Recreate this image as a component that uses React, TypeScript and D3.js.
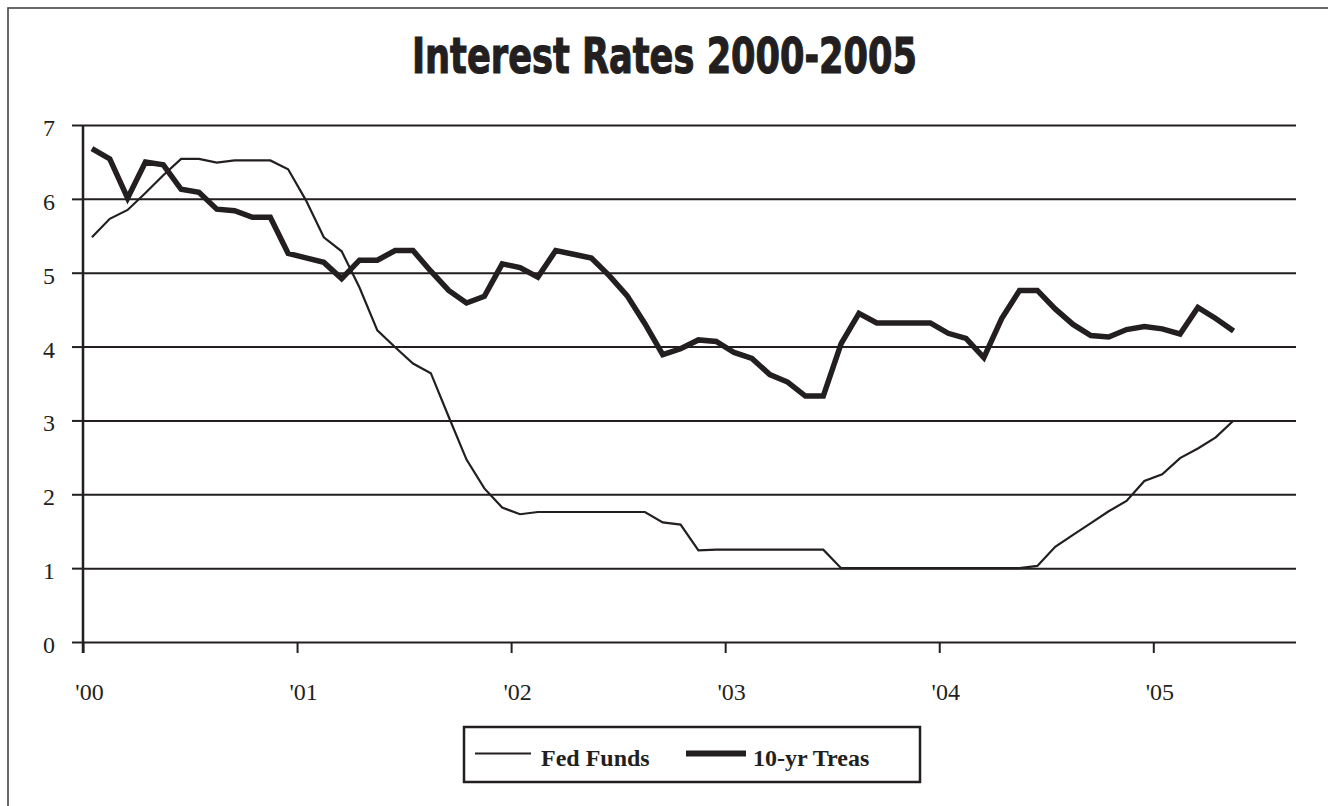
import { useEffect, useRef } from 'react';
import * as d3 from 'd3';

// months since Jan 2000, one value per month, Jan 2000 .. May 2005
const fedFunds = [
  5.48, 5.73, 5.85, 6.08, 6.32, 6.54, 6.54, 6.49, 6.52, 6.52, 6.52, 6.40,
  5.98, 5.48, 5.29, 4.80, 4.22, 3.99, 3.77, 3.64, 3.05, 2.47, 2.08, 1.82,
  1.73, 1.76, 1.76, 1.76, 1.76, 1.76, 1.76, 1.76, 1.62, 1.59, 1.24, 1.25,
  1.25, 1.25, 1.25, 1.25, 1.25, 1.25, 1.00, 1.00, 1.00, 1.00, 1.00, 1.00,
  1.00, 1.00, 1.00, 1.00, 1.00, 1.03, 1.29, 1.45, 1.61, 1.77, 1.91, 2.18,
  2.27, 2.49, 2.62, 2.77, 3.00,
];

const treas10 = [
  6.68, 6.54, 6.01, 6.50, 6.46, 6.13, 6.09, 5.86, 5.84, 5.75, 5.75, 5.26,
  5.20, 5.14, 4.92, 5.17, 5.17, 5.30, 5.30, 5.02, 4.76, 4.59, 4.68, 5.12,
  5.07, 4.94, 5.30, 5.25, 5.20, 4.96, 4.69, 4.31, 3.89, 3.97, 4.09, 4.07,
  3.92, 3.84, 3.62, 3.52, 3.33, 3.33, 4.04, 4.45, 4.32, 4.32, 4.32, 4.32,
  4.18, 4.11, 3.85, 4.38, 4.76, 4.76, 4.51, 4.30, 4.15, 4.13, 4.23, 4.27,
  4.24, 4.17, 4.53, 4.38, 4.21,
];

const yearLabels = ["'00", "'01", "'02", "'03", "'04", "'05"];
const yTicks = [0, 1, 2, 3, 4, 5, 6, 7];
const seriesNames = ['Fed Funds', '10-yr Treas'];
const title = 'Interest Rates 2000-2005';

const W = 1328;
const H = 806;
const INK = '#231f20';
const SERIF = '"Liberation Serif", "Times New Roman", serif';

export default function App() {
  const ref = useRef<SVGSVGElement>(null);

  useEffect(() => {
    const svg = d3.select(ref.current);
    svg.selectAll('*').remove();

    const margin = { top: 125, right: 32, bottom: 164, left: 83 };
    const w = W - margin.left - margin.right;
    const h = H - margin.top - margin.bottom;

    // frame (right / bottom edges fall outside the picture)
    svg.append('rect').attr('x', 8).attr('y', 8).attr('width', W + 40).attr('height', H + 40)
      .style('fill', 'none').style('stroke', '#444').style('stroke-width', 1.6);

    svg.append('text')
      .attr('x', 412).attr('y', 72.5)
      .attr('textLength', 505).attr('lengthAdjust', 'spacingAndGlyphs')
      .style('font-family', '"Liberation Sans Narrow", "DejaVu Sans Condensed", "Roboto", sans-serif')
      .style('font-weight', 'bold').style('font-size', '49px')
      .style('fill', INK).style('stroke', INK).style('stroke-width', 1.1)
      .text(title);

    const g = svg.append('g').attr('transform', `translate(${margin.left},${margin.top})`);

    const x = d3.scaleLinear().domain([0, 68]).range([0, w]);
    const y = d3.scaleLinear().domain([0, 7]).range([h, 0]);

    // grid
    const grid = g.append('g').call(d3.axisLeft(y).tickValues(yTicks).tickSize(-w).tickFormat(() => ''));
    grid.select('.domain').remove();
    grid.selectAll('line').style('stroke', INK).style('stroke-width', 2);

    // y axis ticks + labels
    const ya = g.append('g').call(d3.axisLeft(y).tickValues(yTicks).tickSize(11).tickPadding(0)
      .tickFormat(d3.format('d')));
    ya.select('.domain').remove();
    ya.selectAll('line').style('stroke', INK).style('stroke-width', 2);
    ya.selectAll('text').attr('x', -28).attr('y', 10.5).attr('dy', 0)
      .style('font-family', SERIF).style('font-size', '24px').style('fill', INK);

    // x axis
    const xa = g.append('g').attr('transform', `translate(0,${h})`)
      .call(d3.axisBottom(x).tickValues(yearLabels.map((_, i) => i * 12)).tickSize(11)
        .tickFormat((_, i) => yearLabels[i]));
    xa.select('.domain').remove();
    xa.selectAll('line').style('stroke', INK).style('stroke-width', 2);
    xa.selectAll('text').attr('x', 6).attr('y', 58).attr('dy', 0)
      .style('font-family', SERIF).style('font-size', '24px').style('fill', INK);

    // y axis line
    g.append('line').attr('x1', 0).attr('x2', 0).attr('y1', y(7)).attr('y2', h + 11)
      .style('stroke', INK).style('stroke-width', 2.5);

    const line = d3.line<number>().x((_, i) => x(i + 0.5)).y(d => y(d));

    g.append('path').datum(fedFunds).attr('d', line)
      .style('fill', 'none').style('stroke', INK).style('stroke-width', 2.2)
      .style('stroke-linejoin', 'miter');
    g.append('path').datum(treas10).attr('d', line)
      .style('fill', 'none').style('stroke', INK).style('stroke-width', 5.5)
      .style('stroke-linejoin', 'miter');

    // legend
    const lg = svg.append('g').attr('transform', 'translate(464,727)');
    lg.append('rect').attr('width', 456).attr('height', 55)
      .style('fill', 'white').style('stroke', INK).style('stroke-width', 2.5);
    const items = [
      { name: seriesNames[0], sw: 2, x0: 11, x1: 67, tx: 77 },
      { name: seriesNames[1], sw: 6, x0: 222, x1: 282, tx: 289 },
    ];
    items.forEach(it => {
      lg.append('line').attr('x1', it.x0).attr('x2', it.x1).attr('y1', 26.5).attr('y2', 26.5)
        .style('stroke', INK).style('stroke-width', it.sw);
      lg.append('text').attr('x', it.tx).attr('y', 39)
        .style('font-family', SERIF).style('font-weight', 'bold').style('font-size', '24px')
        .style('fill', INK).text(it.name);
    });
  }, []);

  return (
    <svg ref={ref} width={W} height={H}
      style={{ position: 'absolute', left: 0, top: 0, background: 'white', display: 'block' }} />
  );
}
